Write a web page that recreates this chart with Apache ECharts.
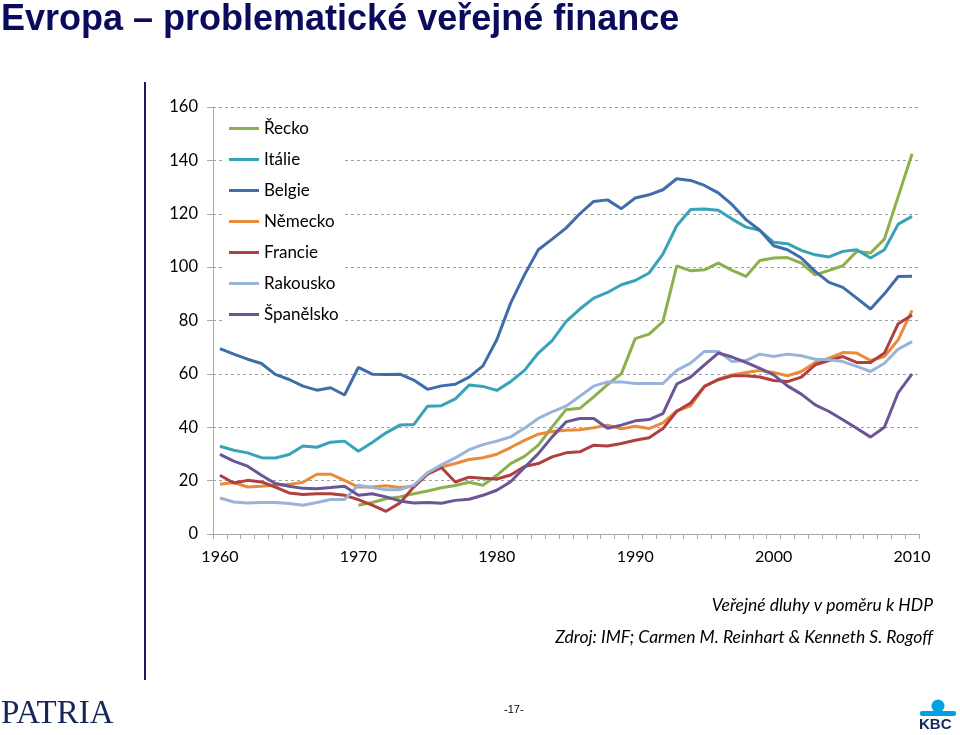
<!DOCTYPE html>
<html>
<head>
<meta charset="utf-8">
<script src="https://cdn.jsdelivr.net/npm/echarts@6/dist/echarts.min.js"></script>
<style>
html,body{margin:0;padding:0;background:#fff;}
#c{width:960px;height:735px;}
</style>
</head>
<body>
<div id="c"></div>
<script>
const years = [];
for (let y = 1960; y <= 2010; y++) years.push(String(y));

const yTicks = [0, 20, 40, 60, 80, 100, 120, 140, 160];

const recko = [null,null,null,null,null,null,null,null,null,null,
  10.8,11.8,13.2,13.9,15.1,16.1,17.3,18.2,19.4,18.3,
  22.0,26.4,29.1,33.3,40.1,46.6,47.1,51.4,56.0,60.1,
  73.2,74.9,79.6,100.5,98.6,99.0,101.5,98.8,96.5,102.5,
  103.4,103.6,101.5,97.1,98.8,100.5,105.9,105.3,110.5,126.5,142.5];
const italie = [32.9,31.4,30.4,28.6,28.5,29.8,33.0,32.5,34.4,34.8,
  31.0,34.3,37.9,40.8,41.0,47.9,48.1,50.6,55.8,55.3,
  53.8,57.1,61.3,67.8,72.5,79.6,84.3,88.4,90.5,93.4,
  95.0,97.8,104.9,115.5,121.6,121.8,121.3,118.0,115.0,113.8,
  109.3,108.8,106.3,104.6,103.8,105.9,106.5,103.4,106.5,116.1,119.0];
const belgie = [69.5,67.4,65.5,63.9,59.8,57.9,55.4,53.9,54.8,52.1,
  62.4,59.9,59.8,59.9,57.7,54.2,55.5,56.1,58.8,63.0,
  72.8,86.5,97.1,106.5,110.5,114.6,120.0,124.6,125.2,121.9,
  125.9,127.1,129.0,133.1,132.5,130.6,127.8,123.4,117.8,113.8,
  108.0,106.5,103.4,98.4,94.3,92.4,88.4,84.3,90.0,96.5,96.6];
const nemecko = [18.6,19.3,17.6,17.9,18.3,18.6,19.4,22.4,22.4,20.1,
  17.6,17.6,18.1,17.4,17.9,22.9,25.1,26.4,27.9,28.6,
  29.9,32.4,35.1,37.4,38.4,38.9,39.1,39.8,40.8,39.4,
  40.4,39.5,41.6,46.1,48.0,55.3,58.0,59.6,60.5,61.3,
  60.5,59.3,60.9,64.3,65.9,68.0,67.8,65.0,66.5,72.8,83.8];
const francie = [22.0,19.1,20.1,19.5,17.6,15.4,14.8,15.1,15.1,14.5,
  12.9,10.8,8.5,11.6,17.6,22.4,24.9,19.5,21.3,20.9,
  20.6,22.1,25.3,26.4,28.9,30.4,30.8,33.3,33.0,33.9,
  35.1,36.1,39.5,46.0,49.1,55.3,57.8,59.3,59.3,58.8,
  57.5,57.1,58.8,63.4,65.0,66.5,64.3,64.3,67.8,78.8,82.1];
const rakousko = [13.5,12.0,11.6,11.8,11.8,11.4,10.8,11.8,12.9,12.9,
  18.3,17.4,16.6,16.6,18.3,22.9,25.9,28.5,31.6,33.5,
  34.8,36.4,39.6,43.3,45.8,47.9,51.6,55.4,57.0,57.0,
  56.4,56.4,56.4,61.3,64.0,68.4,68.4,64.6,65.0,67.4,
  66.5,67.4,66.8,65.5,65.3,64.6,62.8,60.9,64.0,69.3,72.1];
const spanelsko = [29.8,27.3,25.4,22.0,18.9,17.9,17.1,17.0,17.4,17.9,
  14.5,15.1,13.9,12.4,11.6,11.8,11.5,12.6,13.0,14.5,
  16.4,19.6,24.9,30.1,36.4,42.0,43.3,43.3,39.6,40.8,
  42.4,42.9,45.1,56.2,58.8,63.4,67.8,66.3,64.3,62.1,
  59.6,55.5,52.4,48.4,45.9,42.8,39.6,36.3,40.0,53.0,60.0];

const seriesNames = ['Řecko','Itálie','Belgie','Německo','Francie','Rakousko','Španělsko'];
const seriesData = [recko, italie, belgie, nemecko, francie, rakousko, spanelsko];
const colors = ['#8DB04E','#38A2B8','#3F6DAA','#E98B3A','#B04040','#98B4D8','#6B5597'];

const chart = echarts.init(document.getElementById('c'), null, {renderer: 'canvas'});
const FONT = 'Lato, "Open Sans", sans-serif';

chart.setOption({
  animation: false,
  backgroundColor: '#fff',
  grid: {left: 213, right: 41, top: 107, bottom: 201, containLabel: false},
  legend: {
    orient: 'vertical',
    left: 223, top: 114,
    padding: [6, 6, 8, 6],
    backgroundColor: '#fff',
    itemWidth: 30, itemHeight: 3, itemGap: 14,
    icon: 'rect',
    data: seriesNames,
    textStyle: {fontFamily: FONT, fontSize: 17, color: '#000', lineHeight: 16}
  },
  xAxis: {
    type: 'category',
    data: years,
    boundaryGap: true,
    axisLine: {lineStyle: {color: '#A6A6A6', width: 1}},
    axisTick: {show: true, interval: 0, length: 5, lineStyle: {color: '#A6A6A6'}},
    axisLabel: {
      interval: function (i) { return i % 10 === 0; },
      margin: 15, fontFamily: FONT, fontSize: 16, color: '#000'
    },
    splitLine: {show: false}
  },
  yAxis: {
    type: 'value',
    min: yTicks[0], max: yTicks[yTicks.length - 1], interval: 20,
    axisLine: {show: true, lineStyle: {color: '#A6A6A6', width: 1}},
    axisTick: {show: true, length: 6, lineStyle: {color: '#A6A6A6'}},
    axisLabel: {margin: 15, fontFamily: FONT, fontSize: 16.5, color: '#000'},
    splitLine: {show: true, lineStyle: {color: '#A0A0A0', type: [3, 3], width: 1}}
  },
  series: seriesNames.map(function (n, i) {
    return {
      name: n, type: 'line', data: seriesData[i],
      showSymbol: false, symbol: 'none',
      lineStyle: {width: 3, color: colors[i]},
      itemStyle: {color: colors[i]},
      connectNulls: false
    };
  }),
  graphic: [
    {type: 'text', left: 1, top: 2, style: {text: 'Evropa – problematické veřejné finance', font: 'bold 36px "Liberation Sans", Arial, sans-serif', fill: '#0B0B5E'}},
    {type: 'rect', shape: {x: 144, y: 82, width: 2, height: 598}, style: {fill: '#1C1C5C'}},
    {type: 'text', right: 27, top: 596, style: {text: 'Veřejné dluhy v poměru k HDP', font: 'italic 17.5px Lato, sans-serif', fill: '#000', textAlign: 'right'}},
    {type: 'text', right: 27, top: 628, style: {text: 'Zdroj: IMF; Carmen M. Reinhart & Kenneth S. Rogoff', font: 'italic 17.5px Lato, sans-serif', fill: '#000', textAlign: 'right'}},
    {type: 'text', left: 1, top: 698, style: {text: 'PATRIA', font: '33px "Liberation Serif", serif', fill: '#15265A'}},
    {type: 'text', left: 504, top: 704, style: {text: '-17-', font: '11px "Liberation Sans Narrow", "Liberation Sans", sans-serif', fill: '#000'}},
    {type: 'circle', shape: {cx: 938, cy: 706, r: 6.5}, style: {fill: '#00A0E2'}},
    {type: 'rect', shape: {x: 920, y: 711, width: 36, height: 5, r: 2}, style: {fill: '#00A0E2'}},
    {type: 'text', left: 919, top: 717, style: {text: 'KBC', font: 'bold 15px "Liberation Sans", Arial, sans-serif', fill: '#102A5E'}}
  ]
});
</script>
</body>
</html>
